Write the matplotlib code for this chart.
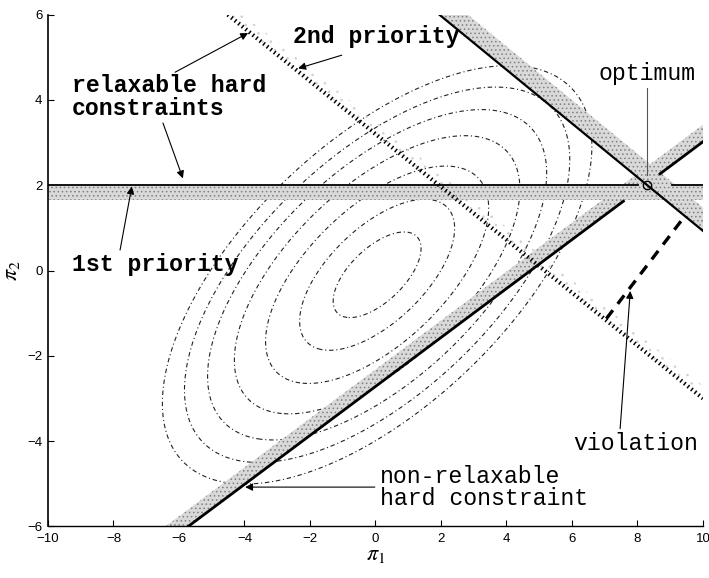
import numpy as np
import matplotlib
matplotlib.use("Agg")
import matplotlib.pyplot as plt

plt.rcParams["mathtext.fontset"] = "stix"
plt.rcParams["hatch.linewidth"] = 0.6

# ---- axis ticks -------------------------------------------------------
x_ticks = [-10, -8, -6, -4, -2, 0, 2, 4, 6, 8, 10]
y_ticks = [-6, -4, -2, 0, 2, 4, 6]

# ---- quadratic objective (centre, shape matrix, contour levels) ------
obj_center = [0.05, -0.1]
obj_shape = [[1.0, 0.46], [0.46, 0.56]]
obj_levels = [1.8, 5.6, 11.6, 19.0, 26.8, 34.6, 43.0]

# ---- 1st priority: relaxable constraint pi2 <= 2 ----------------------
prio1_level = 2.0
prio1_band = 0.35
prio1_segments = [(-10.0, 8.03), (9.04, 10.0)]

# ---- 2nd priority: relaxable constraint (dotted) ---------------------
prio2_x = [-4.51, 10.0]
prio2_y = [6.0, -3.0]
prio2_band = 0.3

# ---- hard constraint through the optimum -----------------------------
optimum = (8.3, 2.0)
upper_slope = -0.63
upper_xrange = (1.95, 10.0)
upper_band = 0.55

# ---- non-relaxable hard constraint -----------------------------------
lower_slope = 0.574
lower_icpt = -2.72
lower_segments = [(-5.72, 7.57), (8.69, 10.0)]
lower_band = 0.4

# ---- violation distance ---------------------------------------------
violation_x = [7.05, 9.45]
violation_y = [-1.13, 1.28]

band_face = "#d9d9d9"
band_hatch = "#808080"
mono = ["Liberation Mono", "DejaVu Sans Mono"]

fig = plt.figure(figsize=(7.09, 5.78), dpi=100)
ax = fig.add_axes([0.0677, 0.0894, 0.9238, 0.8852])

# objective contours
gx, gy = np.meshgrid(np.linspace(-10, 10, 500), np.linspace(-6, 6, 400))
Sinv = np.linalg.inv(np.array(obj_shape))
dx, dy = gx - obj_center[0], gy - obj_center[1]
J = Sinv[0, 0] * dx**2 + 2 * Sinv[0, 1] * dx * dy + Sinv[1, 1] * dy**2
ax.contour(gx, gy, J, levels=obj_levels, colors="#222222",
           linewidths=0.8, linestyles=[(0, (4, 2.5, 1, 2.5))], zorder=1)

# bands (feasible-side shading)
xb = np.array([-10.0, 10.0])
ax.fill_between(xb, prio1_level - prio1_band, prio1_level, facecolor=band_face,
                edgecolor=band_hatch, hatch="....", linewidth=0, zorder=2)

xu = np.array([upper_xrange[0] - 0.1, 10.5])
yu = optimum[1] + upper_slope * (xu - optimum[0])
ax.fill_between(xu, yu, yu + upper_band, facecolor=band_face,
                edgecolor=band_hatch, hatch="....", linewidth=0, zorder=2)

xl = np.array([-7.0, 10.5])
yl = lower_slope * xl + lower_icpt
ax.fill_between(xl, yl, yl + lower_band, facecolor=band_face,
                edgecolor=band_hatch, hatch="....", linewidth=0, zorder=2)

p2s = (prio2_y[1] - prio2_y[0]) / (prio2_x[1] - prio2_x[0])
xp = np.array([prio2_x[0] - 1.0, 10.5])
yp = prio2_y[0] + p2s * (xp - prio2_x[0])
ax.fill_between(xp, yp, yp + prio2_band, facecolor="none",
                edgecolor="#d0d0d0", hatch="..", linewidth=0, zorder=1.5)

# constraint lines
for a, b in prio1_segments:
    ax.plot([a, b], [prio1_level, prio1_level], color="k", lw=1.3, zorder=3)

ax.plot(upper_xrange, [optimum[1] + upper_slope * (v - optimum[0]) for v in upper_xrange],
        color="k", lw=1.6, zorder=3)

for a, b in lower_segments:
    ax.plot([a, b], [lower_slope * a + lower_icpt, lower_slope * b + lower_icpt],
            color="k", lw=2.0, zorder=3)

ax.plot(prio2_x, prio2_y, color="k", lw=3.0, linestyle=(0, (0.35, 0.75)),
        dash_capstyle="butt", zorder=3)

ax.plot(violation_x, violation_y, color="k", lw=2.4, linestyle=(0, (3.2, 2.4)),
        dash_capstyle="butt", zorder=3)

ax.plot([optimum[0]], [optimum[1]], marker="o", ms=6, mfc="none", mec="k",
        mew=1.0, zorder=4)

# annotations
arrow = dict(arrowstyle="-|>", color="k", lw=0.8, mutation_scale=11,
             shrinkA=0, shrinkB=0)
ax.annotate("", xy=(-3.89, 5.57), xytext=(-6.12, 4.65), arrowprops=arrow, zorder=5)
ax.annotate("", xy=(-5.88, 2.16), xytext=(-6.49, 3.46), arrowprops=arrow, zorder=5)
ax.annotate("", xy=(-7.44, 1.97), xytext=(-7.8, 0.48), arrowprops=arrow, zorder=5)
ax.annotate("", xy=(-2.36, 4.74), xytext=(-1.03, 5.05), arrowprops=arrow, zorder=5)
ax.annotate("", xy=(7.78, -0.48), xytext=(7.47, -3.71), arrowprops=arrow, zorder=5)
ax.annotate("", xy=(-3.98, -5.08), xytext=(-0.02, -5.08), arrowprops=arrow, zorder=5)
ax.plot([8.28, 8.28], [4.28, 2.24], color="#555555", lw=0.8, zorder=5)

fs = 16.7
ax.text(-9.28, 4.19, "relaxable hard", family=mono, fontsize=fs, weight="bold")
ax.text(-9.28, 3.65, "constraints", family=mono, fontsize=fs, weight="bold")
ax.text(-9.28, -0.01, "1st priority", family=mono, fontsize=fs, weight="bold")
ax.text(-2.51, 5.33, "2nd priority", family=mono, fontsize=fs, weight="bold")
ax.text(6.81, 4.47, "optimum", family=mono, fontsize=fs)
ax.text(6.04, -4.22, "violation", family=mono, fontsize=fs)
ax.text(0.14, -4.99, "non-relaxable", family=mono, fontsize=fs)
ax.text(0.14, -5.51, "hard constraint", family=mono, fontsize=fs)

# axes styling
ax.set_xlim(-10, 10)
ax.set_ylim(-6, 6)
ax.set_xticks(x_ticks)
ax.set_yticks(y_ticks)
ax.spines["top"].set_visible(False)
ax.spines["right"].set_visible(False)
ax.spines["left"].set_linewidth(1.2)
ax.spines["bottom"].set_linewidth(1.0)
ax.tick_params(direction="in", length=4, width=0.8, labelsize=9.5)
ax.tick_params(axis="x", pad=5)
ax.tick_params(axis="y", pad=4)
for lab in ax.get_xticklabels() + ax.get_yticklabels():
    lab.set_family(["Liberation Sans", "DejaVu Sans"])
ax.set_xlabel(r"$\pi_1$", fontsize=16, labelpad=0)
ax.set_ylabel(r"$\pi_2$", fontsize=16, labelpad=4)

fig.savefig("out.png", dpi=100)
